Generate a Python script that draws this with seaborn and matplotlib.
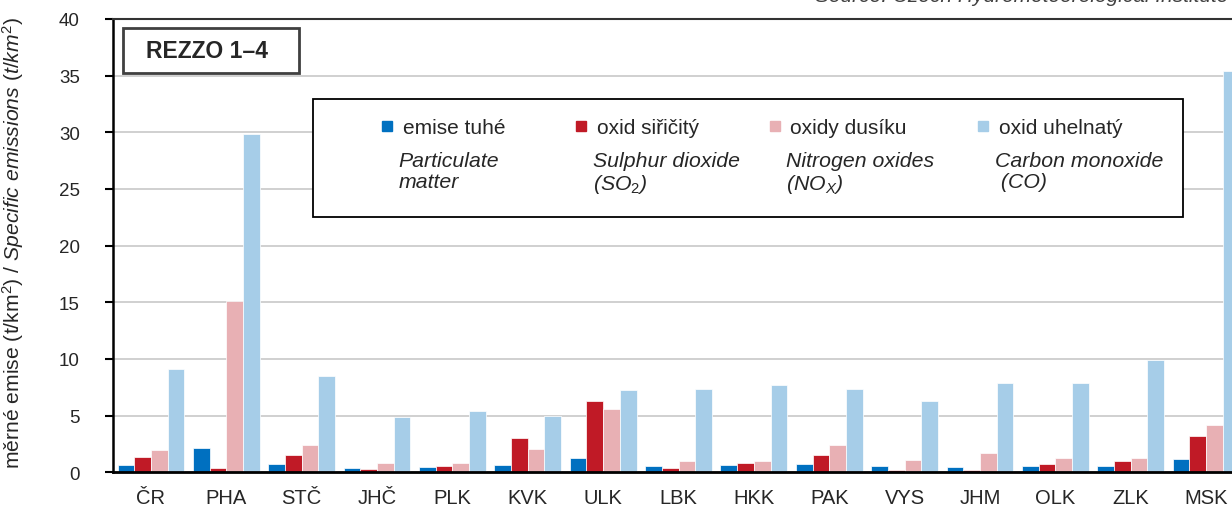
import matplotlib
matplotlib.use("Agg")
import matplotlib.pyplot as plt
from matplotlib.lines import Line2D
from matplotlib.patches import Rectangle
import seaborn as sns
import pandas as pd
import numpy as np

regions = ["ČR", "PHA", "STČ", "JHČ", "PLK", "KVK", "ULK", "LBK",
           "HKK", "PAK", "VYS", "JHM", "OLK", "ZLK", "MSK"]
particulate = [0.66, 2.14, 0.75, 0.40, 0.46, 0.62, 1.26, 0.53, 0.64, 0.70, 0.53, 0.51, 0.57, 0.60, 1.13]
so2 = [1.37, 0.42, 1.54, 0.31, 0.55, 3.00, 6.27, 0.35, 0.85, 1.53, 0.23, 0.16, 0.69, 0.99, 3.22]
nox = [1.99, 15.1, 2.40, 0.78, 0.84, 2.03, 5.59, 1.00, 0.97, 2.41, 1.09, 1.69, 1.28, 1.22, 4.16]
co = [9.09, 29.85, 8.50, 4.84, 5.43, 4.94, 7.26, 7.35, 7.70, 7.35, 6.32, 7.88, 7.88, 9.87, 35.4]

pollutants_cz = ["emise tuhé", "oxid siřičitý", "oxidy dusíku", "oxid uhelnatý"]
pollutants_en = ["Particulate\nmatter", "Sulphur dioxide\n(SO$_{\\mathit{2}}$)",
                 "Nitrogen oxides\n(NO$_{\\mathit{X}}$)", "Carbon monoxide\n (CO)"]
colors = ["#0070c0", "#c01a26", "#e8b0b4", "#a6cde8"]

sns.set_style("white")
plt.rcParams["font.family"] = ["Liberation Sans", "DejaVu Sans"]
plt.rcParams["mathtext.fontset"] = "custom"
plt.rcParams["mathtext.rm"] = "Liberation Sans"
plt.rcParams["mathtext.it"] = "Liberation Sans:italic"

df = pd.DataFrame({
    "region": regions * 4,
    "pollutant": np.repeat(pollutants_cz, len(regions)),
    "value": particulate + so2 + nox + co,
})

W, H = 1232, 506
fig = plt.figure(figsize=(W / 100, H / 100), dpi=100)
ax = fig.add_axes([113.3 / W, (H - 473.3) / H, 1130.4 / W, 453.3 / H])

sns.barplot(data=df, x="region", y="value", hue="pollutant", hue_order=pollutants_cz,
            palette=colors, width=0.886, gap=0, edgecolor="white", linewidth=0.5,
            saturation=1, legend=False, ax=ax)

ax.set_xlim(-0.5, 14.5)
ax.set_ylim(0, 40)
ax.set_yticks(np.arange(0, 41, 5))
ax.set_axisbelow(True)
ax.yaxis.grid(True, color="#c8c8c8", linewidth=1.2)
ax.xaxis.grid(False)

ax.set_xticks(np.arange(-0.5, 15, 1), minor=True)
ax.tick_params(axis="x", which="major", length=0, pad=11, labelsize=14.5)
ax.tick_params(axis="x", which="minor", length=6, width=1.5, direction="out", color="black")
ax.tick_params(axis="y", length=6, width=1.5, direction="out", pad=18, labelsize=13.5,
               left=True, color="black")
ax.set_xlabel("")

ax.spines["right"].set_visible(False)
ax.spines["left"].set_linewidth(1.8)
ax.spines["bottom"].set_linewidth(2)
ax.spines["top"].set_color("#333333")
ax.spines["top"].set_linewidth(1.5)
for s in ["left", "bottom"]:
    ax.spines[s].set_color("black")

ax.set_ylabel("měrné emise (t/km$^2$) / $\\mathit{Specific\\ emissions\\ (t/km^2)}$", fontsize=15.2)
ax.yaxis.set_label_coords(-0.0775, 0.509)

# legend box
fig.patches.append(Rectangle((313 / W, 1 - 218 / H), 870 / W, 118 / H, transform=fig.transFigure,
                             facecolor="white", edgecolor="black", linewidth=1.3, zorder=2))
handles = [Line2D([0], [0], marker="s", linestyle="none", markersize=7.5,
                  markerfacecolor=c, markeredgecolor=c) for c in colors]
leg = fig.legend(handles, pollutants_cz, loc="upper left", bbox_to_anchor=(378.7 / W, 1 - 119 / H),
                 ncol=4, frameon=False, fontsize=15, handlelength=0.8, handletextpad=0.35,
                 columnspacing=3.25, borderaxespad=0, borderpad=0)
leg.set_zorder(5)

fig.canvas.draw()
renderer = fig.canvas.get_renderer()
for txt, eng in zip(leg.get_texts(), pollutants_en):
    bb = txt.get_window_extent(renderer)
    fig.text((bb.x0 - 4) / W, 1 - 152 / H, eng, style="italic", va="top", ha="left",
             fontsize=15.3, linespacing=1.12, zorder=6)

# REZZO label
fig.patches.append(Rectangle((122.7 / W, 1 - 74 / H), 176.6 / W, 44.7 / H, transform=fig.transFigure,
                             facecolor="white", edgecolor="#404040", linewidth=2, zorder=2))
fig.text(207 / W, 1 - 52 / H, "REZZO 1–4", fontsize=16.5, fontweight="bold", ha="center", va="center",
         zorder=6)

# source note, cut off at the top edge as in the original
fig.text(815 / W, 1 - 1.5 / H, "Source: Czech Hydrometeorological Institute", style="italic",
         color="#404040", fontsize=15, va="baseline", ha="left")

fig.savefig("out.png", dpi=100)
